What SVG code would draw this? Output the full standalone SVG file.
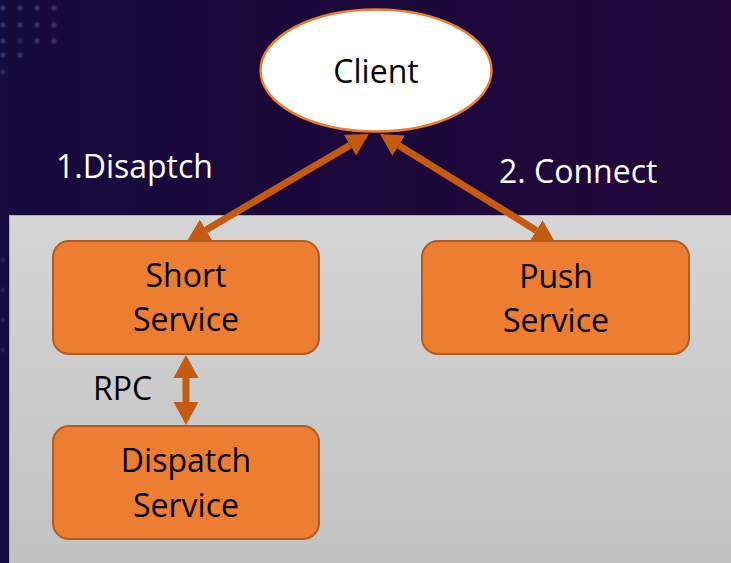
<svg xmlns="http://www.w3.org/2000/svg" width="731" height="563" viewBox="0 0 731 563">
  <defs>
    <linearGradient id="bg" x1="0" y1="0" x2="1" y2="0">
      <stop offset="0" stop-color="#150b3e"/>
      <stop offset="0.35" stop-color="#1b093a"/>
      <stop offset="1" stop-color="#22063a"/>
    </linearGradient>
    <linearGradient id="panel" x1="0" y1="0" x2="0" y2="1">
      <stop offset="0" stop-color="#d5d5d5"/>
      <stop offset="1" stop-color="#c1c1c1"/>
    </linearGradient>
    <radialGradient id="dotFill">
      <stop offset="0" stop-color="#4d6bb0"/>
      <stop offset="1" stop-color="#4d6bb0" stop-opacity="0"/>
    </radialGradient>
    <marker id="head" viewBox="0 0 22 24" markerUnits="userSpaceOnUse" markerWidth="22" markerHeight="24" refX="0" refY="12" orient="auto-start-reverse">
      <path d="M0,0 L22,12 L0,24 Z" fill="#c55a11"/>
    </marker>
    <marker id="headRpc" viewBox="0 0 23 25" markerUnits="userSpaceOnUse" markerWidth="23" markerHeight="25" refX="0" refY="12.5" orient="auto-start-reverse">
      <path d="M0,0 L23,12.5 L0,25 Z" fill="#c55a11"/>
    </marker>
    <style>
      .label { font-family: "Open Sans", "Liberation Sans", sans-serif; font-size: 32px; }
      .light { fill: #ffffff; }
      .dark { fill: #000000; }
      .box { fill: #ed7d31; stroke: #b35c22; stroke-width: 2; }
      .link { stroke: #c55a11; stroke-width: 7; fill: none; }
      .dot { fill: url(#dotFill); }
    </style>
  </defs>

  <!-- backdrop -->
  <rect x="0" y="0" width="731" height="563" fill="url(#bg)"/>
  <g opacity="0.6">
    <circle class="dot" cx="3" cy="8" r="4"/>
    <circle class="dot" cx="20" cy="8" r="4"/>
    <circle class="dot" cx="37" cy="8" r="4"/>
    <circle class="dot" cx="54" cy="8" r="4"/>
    <circle class="dot" cx="3" cy="25" r="4"/>
    <circle class="dot" cx="20" cy="25" r="4"/>
    <circle class="dot" cx="37" cy="25" r="4"/>
    <circle class="dot" cx="54" cy="25" r="4"/>
    <circle class="dot" cx="3" cy="41" r="4"/>
    <circle class="dot" cx="20" cy="41" r="4" opacity="0.6"/>
    <circle class="dot" cx="37" cy="41" r="4"/>
    <circle class="dot" cx="54" cy="41" r="4"/>
    <circle class="dot" cx="3" cy="55" r="4"/>
    <circle class="dot" cx="20" cy="55" r="4"/>
    <circle class="dot" cx="3" cy="72" r="4" opacity="0.7"/>
  </g>
  <g opacity="0.35">
    <circle class="dot" cx="3" cy="260" r="3.5"/>
    <circle class="dot" cx="3" cy="290" r="3.5"/>
    <circle class="dot" cx="3" cy="320" r="3.5"/>
    <circle class="dot" cx="3" cy="350" r="3.5"/>
  </g>

  <!-- server-side panel -->
  <rect x="9.5" y="215.5" width="730" height="360" fill="url(#panel)" stroke="#aeaeae" stroke-width="1"/>

  <!-- connectors -->
  <g id="connectors">
    <line class="link" x1="350" y1="145.2" x2="206" y2="229.9" marker-start="url(#head)" marker-end="url(#head)"/>
    <line class="link" x1="398.7" y1="145.6" x2="536.3" y2="230.4" marker-start="url(#head)" marker-end="url(#head)"/>
    <line class="link" x1="186" y1="378" x2="186" y2="402" stroke-width="8" marker-start="url(#headRpc)" marker-end="url(#headRpc)"/>
  </g>

  <!-- connector labels -->
  <text class="label light" x="56" y="178">1.Disaptch</text>
  <text class="label light" x="499" y="183">2. Connect</text>
  <text class="label dark" x="93" y="400">RPC</text>

  <g id="client">
    <ellipse cx="376" cy="70.5" rx="115.5" ry="61" fill="#ffffff" stroke="#ed7d31" stroke-width="2.5"/>
    <text class="label dark" x="376" y="83" text-anchor="middle" font-size="31">Client</text>
  </g>

  <g id="short-service">
    <rect class="box" x="53" y="241" width="266" height="113" rx="16"/>
    <text class="label dark" x="186" y="287" text-anchor="middle">Short</text>
    <text class="label dark" x="186" y="331" text-anchor="middle">Service</text>
  </g>

  <g id="push-service">
    <rect class="box" x="422" y="241" width="267" height="113" rx="16"/>
    <text class="label dark" x="556" y="288" text-anchor="middle">Push</text>
    <text class="label dark" x="556" y="332" text-anchor="middle">Service</text>
  </g>

  <g id="dispatch-service">
    <rect class="box" x="53" y="426" width="266" height="113" rx="16"/>
    <text class="label dark" x="186" y="472" text-anchor="middle">Dispatch</text>
    <text class="label dark" x="186" y="517" text-anchor="middle">Service</text>
  </g>
</svg>
